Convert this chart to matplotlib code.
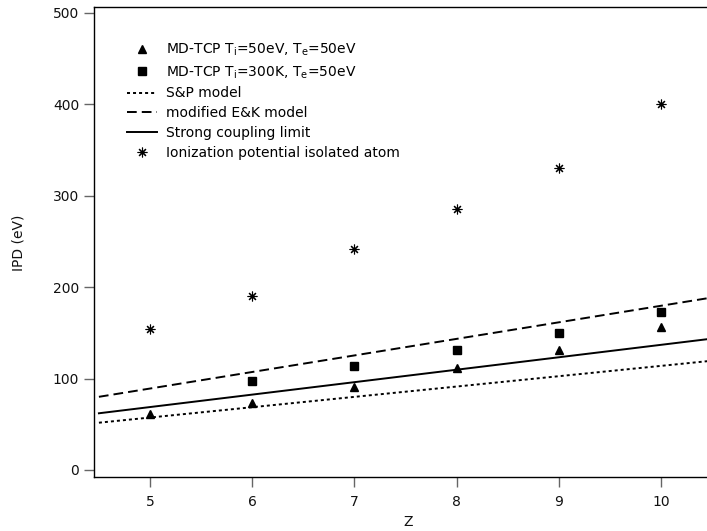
import matplotlib
matplotlib.use("Agg")
import matplotlib.pyplot as plt
from matplotlib.lines import Line2D

# ---- data ----
Z = [5, 6, 7, 8, 9, 10]
md_hot = [61, 73, 91, 111, 131, 156]          # MD-TCP Ti=50eV, Te=50eV
Z_cold = [6, 7, 8, 9, 10]
md_cold = [97, 114, 131, 150, 173]            # MD-TCP Ti=300K, Te=50eV
ion_pot = [154, 190, 242, 285, 330, 400]      # isolated atom ionization potential

line_z = [4.5, 10.6]
sp_model = [51.7, 120.6]
ek_model = [80.0, 190.4]
strong_coupling = [62.0, 145.0]

xticks = [5, 6, 7, 8, 9, 10]
yticks = [0, 100, 200, 300, 400, 500]

plt.rcParams['font.family'] = ['DejaVu Sans']
plt.rcParams['mathtext.fontset'] = 'dejavusans'

W, H = 707, 531
fig = plt.figure(figsize=(W / 100, H / 100), dpi=100)
left_px, right_px, top_px, bot_px = 93.7, 722.0, 7.0, 477.3
ax = fig.add_axes([left_px / W, 1 - bot_px / H, (right_px - left_px) / W, (bot_px - top_px) / H])

lw = 1.4
ax.plot(line_z, sp_model, color='black', lw=lw, dashes=(1.55, 1.55))
ax.plot(line_z, ek_model, color='black', lw=lw, dashes=(5.0, 2.6))
ax.plot(line_z, strong_coupling, color='black', lw=lw)
ax.plot(Z, md_hot, ls='none', marker='^', ms=6.2, color='black')
ax.plot(Z_cold, md_cold, ls='none', marker='s', ms=5.8, color='black')
ax.plot(Z, ion_pot, ls='none', marker=(8, 2, 0), ms=7, mew=0.8, color='black')

ax.set_xlim(4.449, 10.597)
ax.set_ylim(-8.0, 506.2)
ax.set_xticks(xticks)
ax.set_yticks(yticks)
ax.tick_params(direction='out', length=7, width=1, color='#666666',
               labelsize=10, labelcolor='#111111')
ax.tick_params(axis='x', pad=6)
ax.tick_params(axis='y', pad=3.5)
for s in ['left', 'bottom', 'top']:
    ax.spines[s].set_linewidth(1.0)
    ax.spines[s].set_color('black')
ax.spines['right'].set_visible(False)

fig.text(18 / W, 1 - 243 / H, 'IPD (eV)', rotation=90, fontsize=10,
         ha='center', va='center', color='#111111')
fig.text(407.7 / W, 1 - 521.5 / H, 'Z', fontsize=10,
         ha='center', va='center', color='#111111')

handles = [
    Line2D([], [], ls='none', marker='^', ms=6.2, color='black'),
    Line2D([], [], ls='none', marker='s', ms=5.8, color='black'),
    Line2D([], [], color='black', lw=lw, dashes=(1.55, 1.55)),
    Line2D([], [], color='black', lw=lw, dashes=(5.0, 2.6)),
    Line2D([], [], color='black', lw=lw),
    Line2D([], [], ls='none', marker=(8, 2, 0), ms=7, mew=0.8, color='black'),
]
labels = [
    r'MD-TCP T$_\mathregular{i}$=50eV, T$_\mathregular{e}$=50eV',
    r'MD-TCP T$_\mathregular{i}$=300K, T$_\mathregular{e}$=50eV',
    'S&P model',
    'modified E&K model',
    'Strong coupling limit',
    'Ionization potential isolated atom',
]
fig.legend(handles, labels, loc='upper left',
           bbox_to_anchor=(126.7 / W, 1 - 42 / H),
           frameon=False, fontsize=10, handlelength=2.2,
           handletextpad=0.6, labelspacing=0.42, borderpad=0,
           borderaxespad=0)

fig.savefig('out.png', dpi=100)
